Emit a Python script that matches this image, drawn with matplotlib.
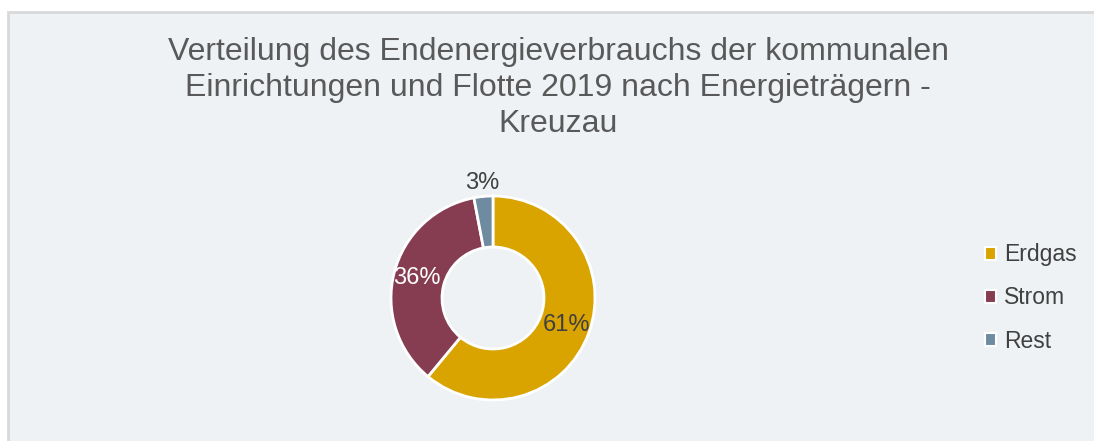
import math
import matplotlib.pyplot as plt
from matplotlib.patches import Rectangle, Patch

plt.rcParams['font.family'] = ['Liberation Sans', 'DejaVu Sans']

# chart data
categories = ['Erdgas', 'Strom', 'Rest']
shares = [61, 36, 3]
colors = ['#D9A400', '#873D51', '#6E8BA0']
label_colors = ['#404040', 'white', '#404040']
title = ('Verteilung des Endenergieverbrauchs der kommunalen\n'
         'Einrichtungen und Flotte 2019 nach Energieträgern -\n'
         'Kreuzau')

W, H = 1094, 441
fig = plt.figure(figsize=(W / 100, H / 100), dpi=100)
fig.patch.set_facecolor('white')

# chart area background, border only on left and top (runs off the figure elsewhere)
bg = Rectangle((8 / W, -0.1), 1.2, 0.1 + (H - 12) / H, transform=fig.transFigure,
               facecolor='#EEF2F5', edgecolor='#D9D9D9', linewidth=2, zorder=-10)
fig.patches.append(bg)

fig.text(558 / W, 1 - 88 / H, title, ha='center', va='center', fontsize=23,
         color='#595959', linespacing=1.25)

# donut
cx, cy, r = 493, 298, 102
half = 150
ax = fig.add_axes([(cx - half) / W, (H - cy - half) / H, 2 * half / W, 2 * half / H])

wedges, _ = ax.pie(shares, colors=colors, startangle=90, counterclock=False,
                   radius=1, wedgeprops=dict(width=0.5, edgecolor='white', linewidth=2))
ax.set_xlim(-half / r, half / r)
ax.set_ylim(-half / r, half / r)
ax.set_aspect('equal')
ax.axis('off')

for w, val, tc in zip(wedges, shares, label_colors):
    ang = math.radians((w.theta1 + w.theta2) / 2)
    dist = 1.13 if val < 5 else 0.77
    ax.text(dist * math.cos(ang), dist * math.sin(ang), f'{val}%', ha='center',
            va='center', fontsize=17, color=tc)

handles = [Patch(facecolor=c, edgecolor='white', linewidth=1.5) for c in colors]
fig.legend(handles, categories, loc='center left', bbox_to_anchor=(964 / W, (H - 298) / H),
           frameon=False, fontsize=16.5, handlelength=0.5, handleheight=0.5,
           handletextpad=0.35, labelspacing=0.88, labelcolor='#404040')

fig.savefig('out.png', dpi=100)
